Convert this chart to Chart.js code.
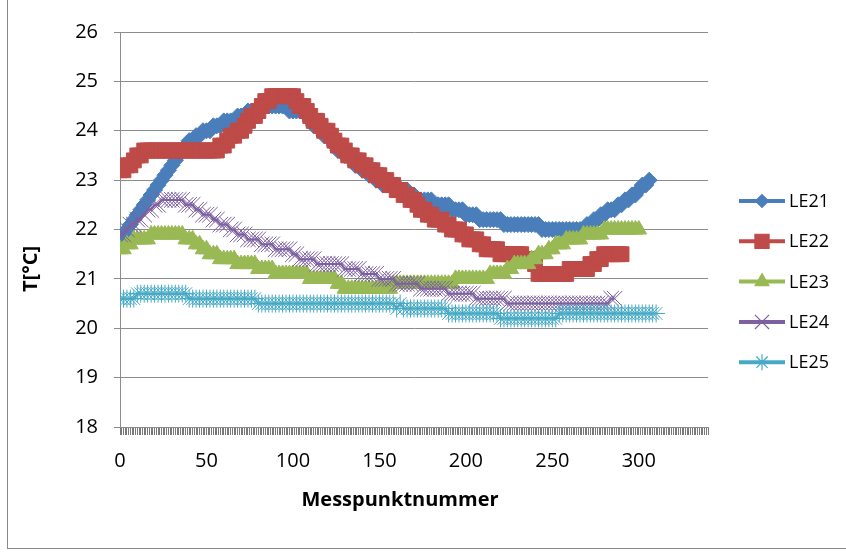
<!DOCTYPE html>
<html>
<head>
<meta charset="utf-8">
<script src="https://cdn.jsdelivr.net/npm/chart.js@4.4.0/dist/chart.umd.min.js"></script>
<style>
    html, body { margin: 0; padding: 0; background: #fff; }
    #wrap { position: relative; width: 846px; height: 552px; }
    #frame {
        position: absolute; left: 7px; top: -2px; width: 839px; height: 550px;
        border-left: 1px solid #8a8a8a; border-bottom: 1px solid #8a8a8a;
        pointer-events: none;
    }
</style>
</head>
<body>
<div id="wrap">
    <canvas id="chart"></canvas>
    <div id="frame"></div>
</div>
<script>
// --- DATA (every 2nd Messpunkt) ---
const messpunkt = [
    0, 2, 4, 6, 8, 10, 12, 14, 16, 18,
    20, 22, 24, 26, 28, 30, 32, 34, 36, 38,
    40, 42, 44, 46, 48, 50, 52, 54, 56, 58,
    60, 62, 64, 66, 68, 70, 72, 74, 76, 78,
    80, 82, 84, 86, 88, 90, 92, 94, 96, 98,
    100, 102, 104, 106, 108, 110, 112, 114, 116, 118,
    120, 122, 124, 126, 128, 130, 132, 134, 136, 138,
    140, 142, 144, 146, 148, 150, 152, 154, 156, 158,
    160, 162, 164, 166, 168, 170, 172, 174, 176, 178,
    180, 182, 184, 186, 188, 190, 192, 194, 196, 198,
    200, 202, 204, 206, 208, 210, 212, 214, 216, 218,
    220, 222, 224, 226, 228, 230, 232, 234, 236, 238,
    240, 242, 244, 246, 248, 250, 252, 254, 256, 258,
    260, 262, 264, 266, 268, 270, 272, 274, 276, 278,
    280, 282, 284, 286, 288, 290, 292, 294, 296, 298,
    300, 302, 304, 306, 308, 310];

const le21 = [
    21.8, 21.9, 22.0, 22.1, 22.2, 22.3, 22.4, 22.5, 22.6, 22.7,
    22.8, 22.9, 23.0, 23.1, 23.2, 23.3, 23.4, 23.5, 23.6, 23.7,
    23.8, 23.8, 23.9, 23.9, 24.0, 24.0, 24.0, 24.1, 24.1, 24.1,
    24.2, 24.2, 24.2, 24.2, 24.3, 24.3, 24.3, 24.4, 24.4, 24.4,
    24.4, 24.5, 24.5, 24.5, 24.5, 24.5, 24.5, 24.5, 24.5, 24.4,
    24.4, 24.4, 24.4, 24.4, 24.3, 24.2, 24.1, 24.1, 24.0, 23.9,
    23.9, 23.8, 23.7, 23.6, 23.6, 23.5, 23.5, 23.4, 23.3, 23.3,
    23.2, 23.2, 23.1, 23.1, 23.0, 23.0, 22.9, 22.9, 22.9, 22.9,
    22.9, 22.8, 22.8, 22.8, 22.7, 22.7, 22.6, 22.6, 22.6, 22.6,
    22.6, 22.5, 22.5, 22.5, 22.5, 22.5, 22.4, 22.4, 22.4, 22.4,
    22.3, 22.3, 22.3, 22.3, 22.2, 22.2, 22.2, 22.2, 22.2, 22.2,
    22.2, 22.1, 22.1, 22.1, 22.1, 22.1, 22.1, 22.1, 22.1, 22.1,
    22.1, 22.1, 22.0, 22.0, 22.0, 22.0, 22.0, 22.0, 22.0, 22.0,
    22.0, 22.0, 22.0, 22.0, 22.0, 22.1, 22.1, 22.2, 22.2, 22.3,
    22.3, 22.4, 22.4, 22.4, 22.5, 22.5, 22.6, 22.6, 22.7, 22.7,
    22.8, 22.9, 22.9, 23.0];

const le22 = [
    23.2, 23.2, 23.3, 23.3, 23.4, 23.5, 23.5, 23.6, 23.6, 23.6,
    23.6, 23.6, 23.6, 23.6, 23.6, 23.6, 23.6, 23.6, 23.6, 23.6,
    23.6, 23.6, 23.6, 23.6, 23.6, 23.6, 23.6, 23.6, 23.6, 23.7,
    23.7, 23.8, 23.9, 23.9, 24.0, 24.0, 24.1, 24.2, 24.3, 24.3,
    24.4, 24.5, 24.6, 24.6, 24.7, 24.7, 24.7, 24.7, 24.7, 24.7,
    24.7, 24.6, 24.5, 24.5, 24.4, 24.3, 24.2, 24.2, 24.1, 24.0,
    24.0, 23.9, 23.8, 23.7, 23.7, 23.6, 23.5, 23.5, 23.4, 23.4,
    23.3, 23.3, 23.2, 23.2, 23.1, 23.1, 23.0, 23.0, 22.9, 22.9,
    22.8, 22.8, 22.7, 22.7, 22.6, 22.6, 22.5, 22.4, 22.4, 22.3,
    22.3, 22.2, 22.2, 22.2, 22.1, 22.1, 22.0, 22.0, 22.0, 21.9,
    21.9, 21.8, 21.8, 21.8, 21.7, 21.7, 21.6, 21.6, 21.6, 21.6,
    21.5, 21.5, 21.5, 21.5, 21.5, 21.5, 21.5, 21.4, 21.4, 21.4,
    21.3, 21.1, 21.1, 21.1, 21.1, 21.1, 21.1, 21.1, 21.1, 21.1,
    21.2, 21.2, 21.2, 21.2, 21.2, 21.2, 21.3, 21.3, 21.4, 21.4,
    21.5, 21.5, 21.5, 21.5, 21.5, 21.5];

const le23 = [
    21.6, 21.6, 21.7, 21.7, 21.8, 21.8, 21.8, 21.8, 21.8, 21.9,
    21.9, 21.9, 21.9, 21.9, 21.9, 21.9, 21.9, 21.9, 21.9, 21.8,
    21.8, 21.8, 21.7, 21.7, 21.6, 21.6, 21.5, 21.5, 21.5, 21.4,
    21.4, 21.4, 21.4, 21.4, 21.3, 21.3, 21.3, 21.3, 21.3, 21.3,
    21.2, 21.2, 21.2, 21.2, 21.2, 21.1, 21.1, 21.1, 21.1, 21.1,
    21.1, 21.1, 21.1, 21.1, 21.1, 21.0, 21.0, 21.0, 21.0, 21.0,
    21.0, 21.0, 21.0, 20.9, 20.9, 20.8, 20.8, 20.8, 20.8, 20.8,
    20.8, 20.8, 20.8, 20.8, 20.8, 20.8, 20.8, 20.8, 20.8, 20.9,
    20.9, 20.9, 20.9, 20.9, 20.9, 20.9, 20.9, 20.9, 20.9, 20.9,
    20.9, 20.9, 20.9, 20.9, 20.9, 20.9, 20.9, 21.0, 21.0, 21.0,
    21.0, 21.0, 21.0, 21.0, 21.0, 21.0, 21.0, 21.1, 21.1, 21.1,
    21.1, 21.1, 21.2, 21.2, 21.3, 21.3, 21.3, 21.3, 21.3, 21.4,
    21.4, 21.5, 21.5, 21.5, 21.6, 21.6, 21.7, 21.7, 21.7, 21.8,
    21.8, 21.8, 21.8, 21.8, 21.9, 21.9, 21.9, 21.9, 21.9, 21.9,
    22.0, 22.0, 22.0, 22.0, 22.0, 22.0, 22.0, 22.0, 22.0, 22.0,
    22.0];

const le24 = [
    21.9, 21.9, 22.0, 22.1, 22.1, 22.2, 22.2, 22.3, 22.4, 22.4,
    22.5, 22.5, 22.6, 22.6, 22.6, 22.6, 22.6, 22.6, 22.6, 22.5,
    22.5, 22.5, 22.4, 22.4, 22.3, 22.3, 22.3, 22.2, 22.2, 22.1,
    22.1, 22.1, 22.0, 22.0, 21.9, 21.9, 21.9, 21.8, 21.8, 21.8,
    21.8, 21.7, 21.7, 21.7, 21.7, 21.6, 21.6, 21.6, 21.6, 21.6,
    21.5, 21.5, 21.4, 21.4, 21.4, 21.4, 21.4, 21.3, 21.3, 21.3,
    21.3, 21.3, 21.3, 21.3, 21.3, 21.2, 21.2, 21.2, 21.2, 21.2,
    21.1, 21.1, 21.1, 21.1, 21.1, 21.0, 21.0, 21.0, 21.0, 21.0,
    20.9, 20.9, 20.9, 20.9, 20.9, 20.9, 20.9, 20.8, 20.8, 20.8,
    20.8, 20.8, 20.8, 20.8, 20.8, 20.7, 20.7, 20.7, 20.7, 20.7,
    20.7, 20.7, 20.7, 20.6, 20.6, 20.6, 20.6, 20.6, 20.6, 20.6,
    20.6, 20.6, 20.5, 20.5, 20.5, 20.5, 20.5, 20.5, 20.5, 20.5,
    20.5, 20.5, 20.5, 20.5, 20.5, 20.5, 20.5, 20.5, 20.5, 20.5,
    20.5, 20.5, 20.5, 20.5, 20.5, 20.5, 20.5, 20.5, 20.5, 20.5,
    20.5, 20.5, 20.6, 20.6];

const le25 = [
    20.6, 20.6, 20.6, 20.6, 20.6, 20.7, 20.7, 20.7, 20.7, 20.7,
    20.7, 20.7, 20.7, 20.7, 20.7, 20.7, 20.7, 20.7, 20.7, 20.7,
    20.6, 20.6, 20.6, 20.6, 20.6, 20.6, 20.6, 20.6, 20.6, 20.6,
    20.6, 20.6, 20.6, 20.6, 20.6, 20.6, 20.6, 20.6, 20.6, 20.6,
    20.5, 20.5, 20.5, 20.5, 20.5, 20.5, 20.5, 20.5, 20.5, 20.5,
    20.5, 20.5, 20.5, 20.5, 20.5, 20.5, 20.5, 20.5, 20.5, 20.5,
    20.5, 20.5, 20.5, 20.5, 20.5, 20.5, 20.5, 20.5, 20.5, 20.5,
    20.5, 20.5, 20.5, 20.5, 20.5, 20.5, 20.5, 20.5, 20.5, 20.5,
    20.4, 20.5, 20.4, 20.4, 20.4, 20.4, 20.4, 20.4, 20.4, 20.4,
    20.4, 20.4, 20.4, 20.4, 20.4, 20.3, 20.3, 20.3, 20.3, 20.3,
    20.3, 20.3, 20.3, 20.3, 20.3, 20.3, 20.3, 20.3, 20.3, 20.3,
    20.2, 20.2, 20.2, 20.2, 20.2, 20.2, 20.2, 20.2, 20.2, 20.2,
    20.2, 20.2, 20.2, 20.2, 20.2, 20.2, 20.2, 20.3, 20.3, 20.3,
    20.3, 20.3, 20.3, 20.3, 20.3, 20.3, 20.3, 20.3, 20.3, 20.3,
    20.3, 20.3, 20.3, 20.3, 20.3, 20.3, 20.3, 20.3, 20.3, 20.3,
    20.3, 20.3, 20.3, 20.3, 20.3, 20.3];

const seriesNames = ['LE21', 'LE22', 'LE23', 'LE24', 'LE25'];
const xTickLabels = [0, 50, 100, 150, 200, 250, 300];

// --- STYLE ---
const seriesValues = [le21, le22, le23, le24, le25];
const seriesColors = ['#4a7ebb', '#be4b48', '#98b954', '#7d60a0', '#46aac5'];
const pointStyles = ['rectRot', 'rect', 'triangle', 'crossRot', 'star'];
const pointRadii = [8, 10.5, 9, 11, 9];
const legendRadii = [6.5, 10, 8, 10, 8];
const FONT = '"Open Sans", "DejaVu Sans", sans-serif';

// legend + axis titles drawn by hand, Excel style
const decorPlugin = {
    id: 'decor',
    afterDraw(chart) {
        const { ctx, chartArea } = chart;
        ctx.save();

        // axis titles
        ctx.fillStyle = '#000';
        ctx.font = 'bold 20px ' + FONT;
        ctx.textAlign = 'center';
        ctx.textBaseline = 'middle';
        ctx.fillText('Messpunktnummer', chartArea.left + 280, chartArea.bottom + 73);

        ctx.save();
        ctx.translate(chartArea.left - 89, chartArea.top + 237);
        ctx.rotate(-Math.PI / 2);
        ctx.fillText('T[°C]', 0, 0);
        ctx.restore();

        // legend
        const lx = chartArea.right + 31;
        seriesNames.forEach((name, k) => {
            const y = chartArea.top + 169 + k * 40.3;
            ctx.strokeStyle = seriesColors[k];
            ctx.lineWidth = 4;
            ctx.beginPath();
            ctx.moveTo(lx, y);
            ctx.lineTo(lx + 46, y);
            ctx.stroke();

            ctx.fillStyle = seriesColors[k];
            ctx.lineWidth = 1.2;
            Chart.helpers.drawPoint(ctx, {
                pointStyle: pointStyles[k], radius: legendRadii[k],
                borderWidth: 1.2, rotation: 0
            }, lx + 23, y);

            ctx.fillStyle = '#000';
            ctx.font = '18px ' + FONT;
            ctx.textAlign = 'left';
            ctx.textBaseline = 'middle';
            ctx.fillText(name, lx + 50, y + 1);
        });
        ctx.restore();
    }
};

const datasets = seriesNames.map((name, k) => ({
    label: name,
    data: seriesValues[k].map((v, j) => ({ x: messpunkt[j], y: v })),
    borderColor: seriesColors[k],
    backgroundColor: seriesColors[k],
    borderWidth: 2,
    tension: 0,
    pointStyle: pointStyles[k],
    pointRadius: pointRadii[k],
    pointBorderWidth: 1,
    pointBackgroundColor: seriesColors[k],
    pointBorderColor: seriesColors[k],
    order: seriesNames.length - k   // later series on top, like Excel
}));

new Chart(document.getElementById('chart'), {
    type: 'line',
    data: { datasets },
    options: {
        responsive: true,
        maintainAspectRatio: false,
        animation: false,
        layout: { padding: { left: 0, right: 138, top: 32, bottom: 0 } },
        plugins: { legend: { display: false }, tooltip: { enabled: false } },
        scales: {
            x: {
                type: 'linear',
                min: 0,
                max: 340,
                ticks: {
                    stepSize: 1,
                    autoSkip: false,
                    maxRotation: 0,
                    padding: 14,
                    color: '#000',
                    font: { family: FONT, size: 20 },
                    callback: v => xTickLabels.includes(v) ? String(v) : ''
                },
                grid: { drawOnChartArea: false, drawTicks: true, tickLength: 8, color: '#7a7a7a' },
                border: { color: '#8c8c8c' },
                afterFit(scale) { scale.height = 125; }
            },
            y: {
                min: 18,
                max: 26,
                ticks: {
                    stepSize: 1,
                    padding: 16,
                    color: '#000',
                    font: { family: FONT, size: 20 }
                },
                grid: { color: '#8c8c8c', lineWidth: 1, tickLength: 6 },
                border: { color: '#8c8c8c' },
                afterFit(scale) { scale.width = 120; }
            }
        }
    },
    plugins: [decorPlugin]
});
</script>
</body>
</html>
